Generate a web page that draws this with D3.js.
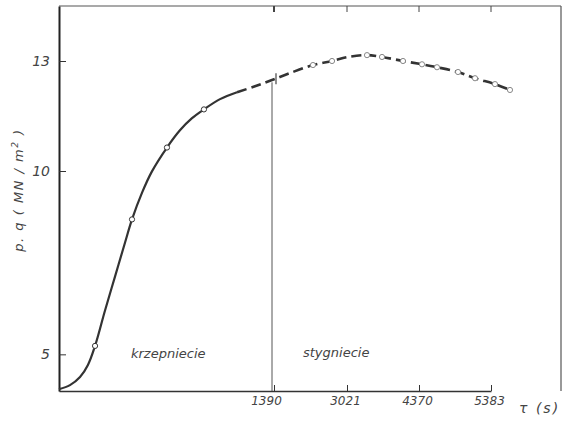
<!DOCTYPE html>
<html>
<head>
<meta charset="utf-8">
<script src="https://cdn.jsdelivr.net/npm/d3@7"></script>
<style>
  body { margin: 0; background: #fff; }
  svg { display: block; }
  text { font-family: "DejaVu Sans", sans-serif; fill: #333; }
</style>
</head>
<body>
<svg id="svg" width="566" height="422"></svg>
<script>
    // -- curve: time tau (s) and p.q (MN/m2)
    var tau = [0, 71, 136, 187, 233, 297, 362, 427, 472, 537, 601, 698, 782, 860, 937, 1041,
               1151, 1267, 1377, 1747, 2261, 2686, 3040, 3396, 3677, 4070, 4412, 4623, 4919, 5158, 5439, 5650];
    var pq  = [4.05, 4.16, 4.38, 4.71, 5.23, 6.19, 7.12, 8.05, 8.68, 9.41, 9.99, 10.64, 11.11, 11.44, 11.68, 11.96,
               12.15, 12.31, 12.48, 12.67, 12.89, 13.00, 13.11, 13.16, 13.11, 13.00, 12.91, 12.83, 12.70, 12.53, 12.37, 12.21];
    var solidEnd = 16;          // - index where the dashed part begins

    // -- open circles on the curve
    var markTau = [233, 472, 698, 937, 2261, 2686, 3396, 3677, 4070, 4412, 4623, 4919, 5158, 5439, 5650];
    var markPq  = [5.23, 8.68, 10.64, 11.68, 12.89, 13.00, 13.16, 13.11, 13.00, 12.91, 12.83, 12.70, 12.53, 12.37, 12.21];

    var xTicks = [1390, 3021, 4370, 5383];
    var yTicks = [5, 10, 13];
    var splitTau = 1390;
    var splitPq = 12.50;

    var svg = d3.select("svg#svg");

    var mLeft = 59, mRight = 561, mTop = 6, mBottom = 391;

    // - the time axis is not uniform on the original, so a piecewise scale
    var x = d3.scaleLinear()
        .domain([0, 1390, 3021, 4370, 5383])
        .range([mLeft, 274, 347, 419, 491]);
    var y = d3.scaleLinear()
        .domain([4, 14.5])
        .range([mBottom, mTop]);

    // - frame
    svg.append("line").attr("x1", mLeft).attr("x2", mRight).attr("y1", mTop).attr("y2", mTop)
        .style("stroke", "#555").style("stroke-width", 1.2);
    svg.append("line").attr("x1", mRight).attr("x2", mRight).attr("y1", mTop).attr("y2", mBottom)
        .style("stroke", "#555").style("stroke-width", 1.2);

    // - top ticks
    svg.selectAll("line.toptick").data(xTicks).enter()
        .append("line").attr("class", "toptick")
        .attr("x1", function(d) { return x(d) }).attr("x2", function(d) { return x(d) })
        .attr("y1", mTop).attr("y2", mTop + 6)
        .style("stroke", "#444").style("stroke-width", function(d, i) { return i == 0 ? 2 : 1 });

    // - bottom axis
    var xAxis = svg.append("g")
        .attr("transform", "translate(0," + mBottom + ")")
        .call(d3.axisBottom(x).tickValues(xTicks).tickFormat(d3.format("d"))
              .tickSize(-6).tickPadding(5).tickSizeOuter(0));
    xAxis.select(".domain").style("stroke", "#333").style("stroke-width", 1.3);
    xAxis.selectAll(".tick line").style("stroke", "#333");
    xAxis.selectAll("text")
        .style("font-size", "12px").style("font-style", "italic").style("fill", "#444")
        .attr("dx", function(d, i) { return i == 0 ? "-8px" : "-2px" });

    // - left axis
    var yAxis = svg.append("g")
        .attr("transform", "translate(" + mLeft + ",0)")
        .call(d3.axisLeft(y).tickValues(yTicks).tickSize(-7).tickPadding(9).tickSizeOuter(0));
    yAxis.select(".domain").style("stroke", "#222").style("stroke-width", 2);
    yAxis.selectAll(".tick line").style("stroke", "#333");
    yAxis.selectAll("text")
        .style("font-size", "14px").style("font-style", "italic").style("fill", "#444");

    // - split line between the two stages
    svg.append("line")
        .attr("x1", x(splitTau) - 2).attr("x2", x(splitTau) - 2)
        .attr("y1", y(splitPq) + 3).attr("y2", mBottom)
        .style("stroke", "#555").style("stroke-width", 1);
    svg.append("line")
        .attr("x1", x(splitTau) + 2).attr("x2", x(splitTau) + 2)
        .attr("y1", y(splitPq) - 6).attr("y2", y(splitPq) + 5)
        .style("stroke", "#444").style("stroke-width", 1.2);

    // - the curve
    var pts = tau.map(function(t, i) { return [t, pq[i]] });
    var line = d3.line()
        .x(function(d) { return x(d[0]) })
        .y(function(d) { return y(d[1]) })
        .curve(d3.curveCatmullRom.alpha(0.5));

    svg.append("path")
        .attr("d", line(pts.slice(0, solidEnd + 1)))
        .style("fill", "none").style("stroke", "#333").style("stroke-width", 2.2);
    svg.append("path")
        .attr("d", line(pts.slice(solidEnd)))
        .style("fill", "none").style("stroke", "#333").style("stroke-width", 2.6)
        .style("stroke-dasharray", "10,5");

    svg.selectAll("circle.mark").data(markTau).enter()
        .append("circle").attr("class", "mark")
        .attr("cx", function(d) { return x(d) })
        .attr("cy", function(d, i) { return y(markPq[i]) })
        .attr("r", 2.6)
        .style("fill", "white")
        .style("stroke", function(d) { return d < splitTau ? "#333" : "#888" })
        .style("stroke-width", 1);

    // - stage labels
    svg.append("text").attr("x", 131).attr("y", 358)
        .text("krzepniecie")
        .style("font-size", "13px").style("font-style", "italic").style("fill", "#444");
    svg.append("text").attr("x", 303).attr("y", 357)
        .text("stygniecie")
        .style("font-size", "13px").style("font-style", "italic").style("fill", "#444");

    // - axis titles
    var yl = svg.append("text")
        .attr("transform", "translate(23,190) rotate(-90)")
        .style("text-anchor", "middle").style("font-size", "13px").style("font-style", "italic")
        .style("fill", "#444").style("letter-spacing", "1.5px");
    yl.append("tspan").text("p. q   ( MN / m");
    yl.append("tspan").attr("dy", "-5").style("font-size", "9px").text("2");
    yl.append("tspan").attr("dy", "5").text(" )");

    svg.append("text").attr("x", 519).attr("y", 413)
        .text("τ (s)")
        .style("font-size", "14px").style("font-style", "italic").style("fill", "#444")
        .style("letter-spacing", "2px");
</script>
</body>
</html>
